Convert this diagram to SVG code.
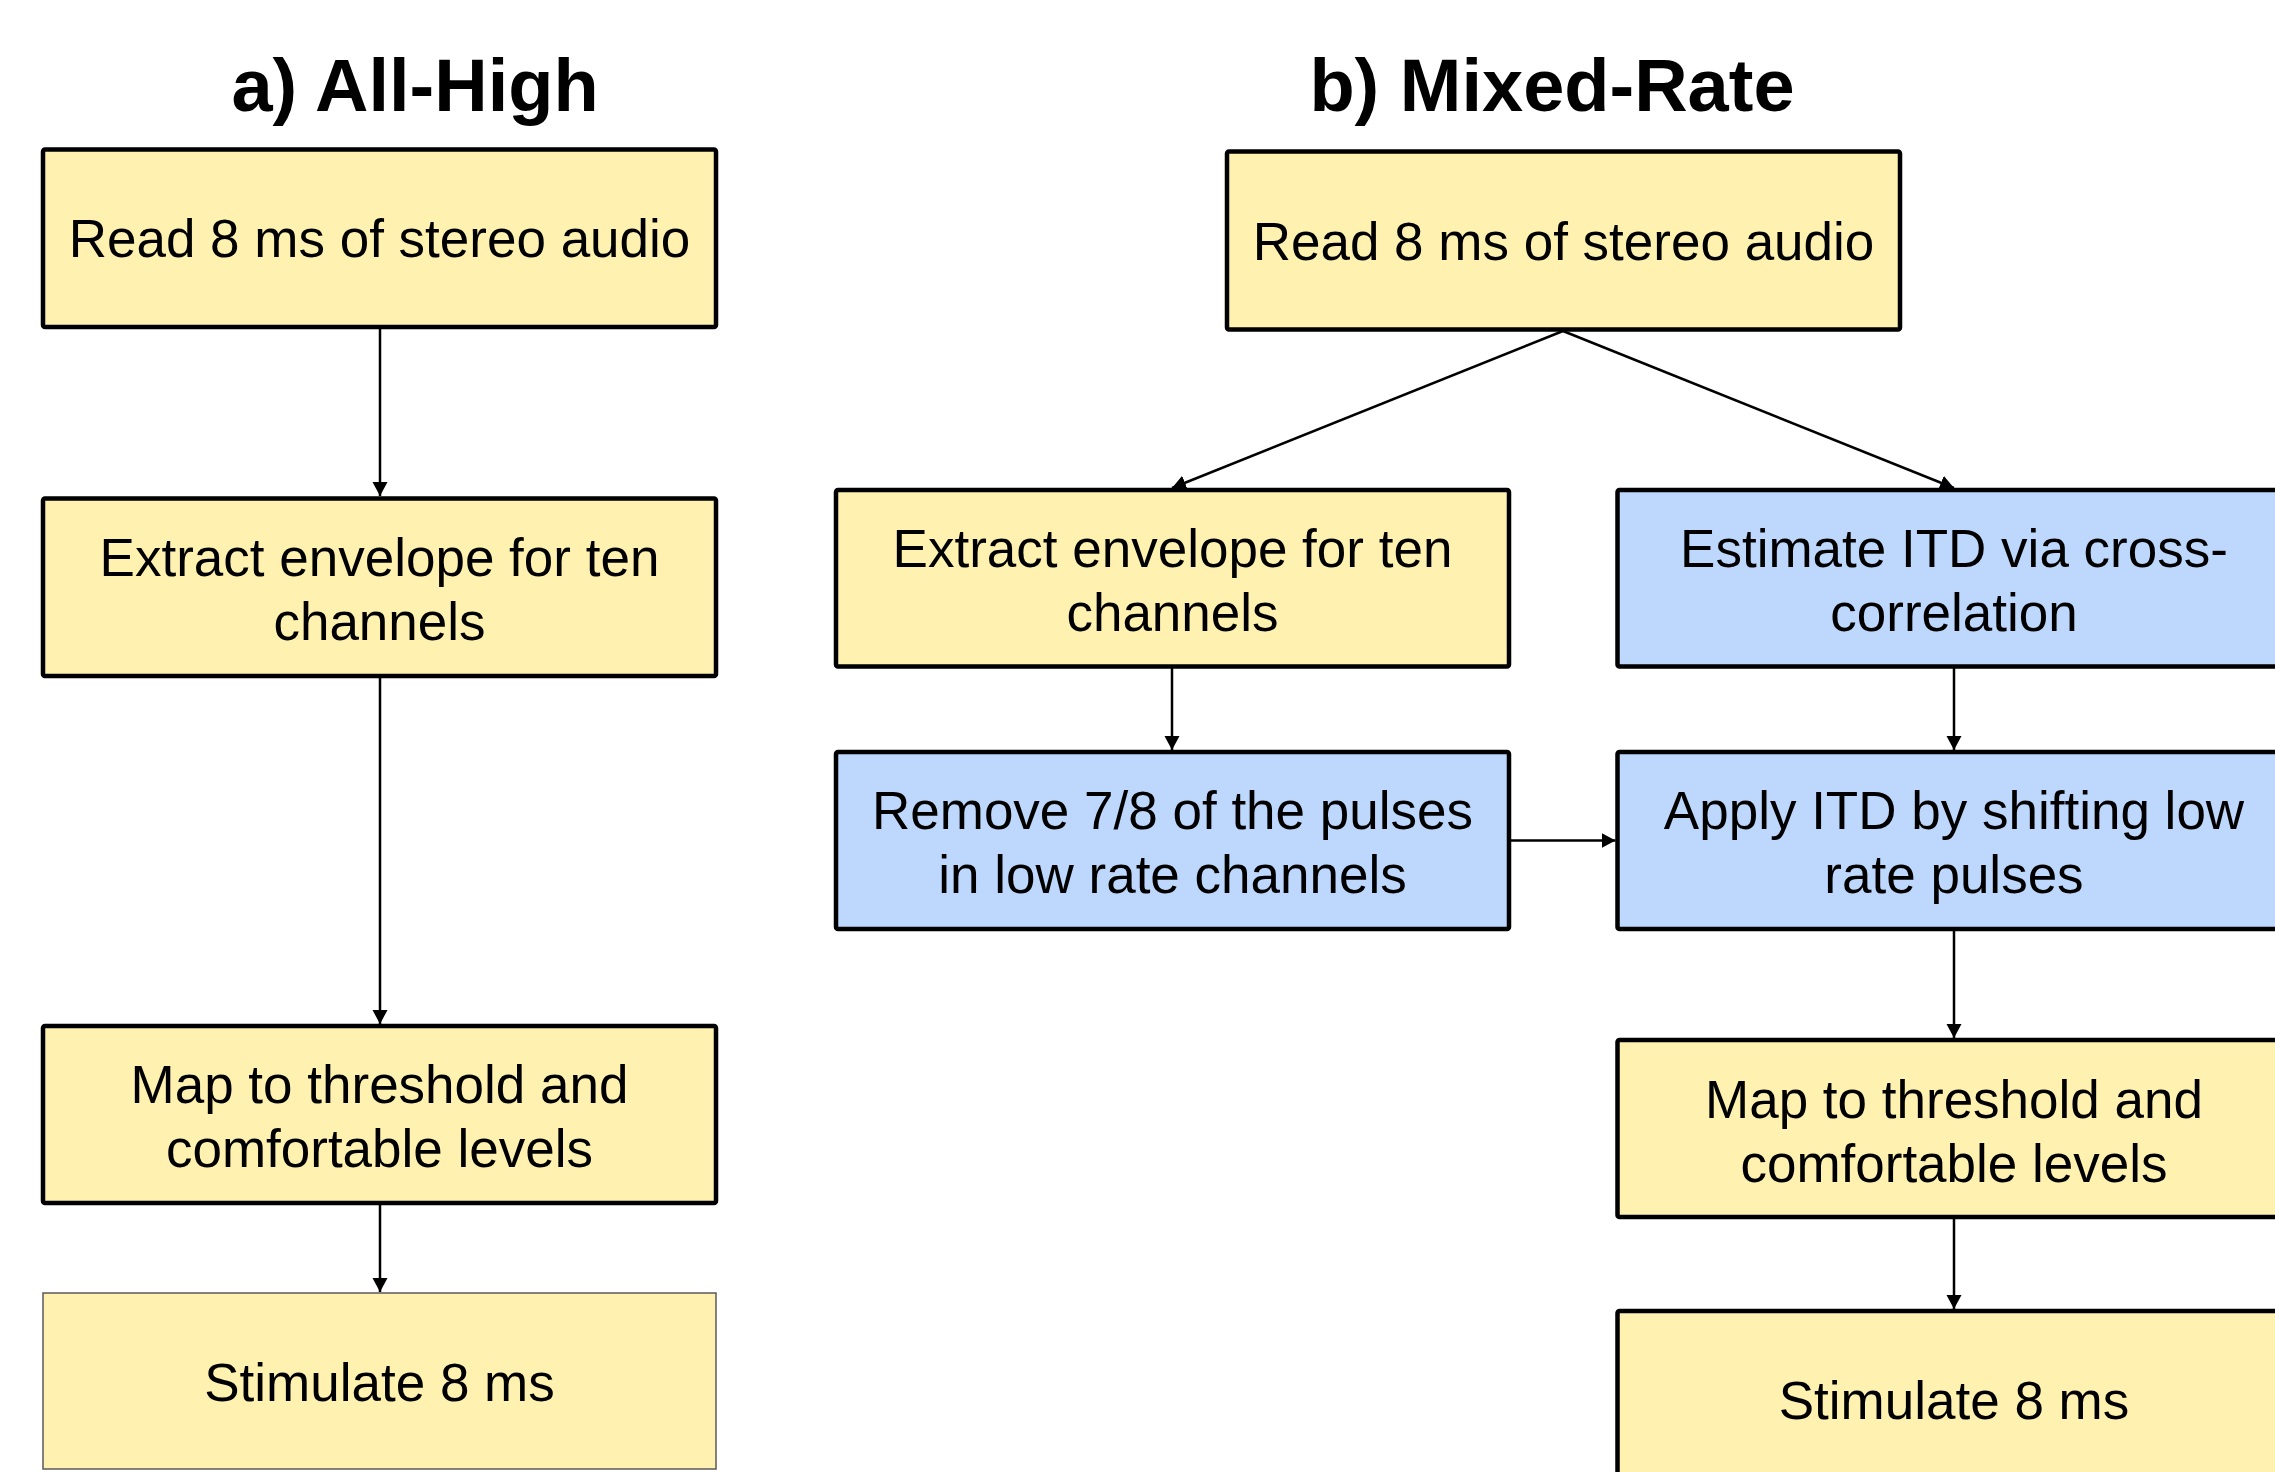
<svg xmlns="http://www.w3.org/2000/svg" width="2275" height="1472" viewBox="0 0 2275 1472">
  <style>
    .box { stroke: #000; stroke-width: 4.5; stroke-linejoin: round; }
    .thin { stroke: #5a5a5a; stroke-width: 1.5; }
    .yellow { fill: #fff2b0; }
    .blue { fill: #bdd7fd; }
    .label { font-family: "Liberation Sans", Arial, sans-serif; font-size: 53px; fill: #000; text-anchor: middle; }
    .title { font-family: "Liberation Sans", Arial, sans-serif; font-size: 74px; font-weight: bold; fill: #000; text-anchor: middle; }
    .edge { stroke: #000; stroke-width: 2.5; fill: none; }
  </style>
  <defs>
    <marker id="arrow" markerUnits="userSpaceOnUse" markerWidth="15" markerHeight="16" refX="14" refY="7.5" orient="auto">
      <path d="M0,0 L14,7.5 L0,15 z" fill="#000"/>
    </marker>
  </defs>
  <rect width="2275" height="1472" fill="#fff"/>

  <!-- Column titles -->
  <text class="title" x="415" y="111">a) All-High</text>
  <text class="title" x="1552" y="111">b) Mixed-Rate</text>

  <!-- Connectors -->
  <g id="connectors">
    <line class="edge" x1="380" y1="328" x2="380" y2="496" marker-end="url(#arrow)"/>
    <line class="edge" x1="380" y1="677" x2="380" y2="1024" marker-end="url(#arrow)"/>
    <line class="edge" x1="380" y1="1204" x2="380" y2="1292" marker-end="url(#arrow)"/>

    <line class="edge" x1="1563" y1="331" x2="1172" y2="488" marker-end="url(#arrow)"/>
    <line class="edge" x1="1563" y1="331" x2="1954" y2="488" marker-end="url(#arrow)"/>
    <line class="edge" x1="1172" y1="667" x2="1172" y2="750" marker-end="url(#arrow)"/>
    <line class="edge" x1="1510" y1="840.5" x2="1615.5" y2="840.5" marker-end="url(#arrow)"/>
    <line class="edge" x1="1954" y1="667" x2="1954" y2="750" marker-end="url(#arrow)"/>
    <line class="edge" x1="1954" y1="930" x2="1954" y2="1038" marker-end="url(#arrow)"/>
    <line class="edge" x1="1954" y1="1218" x2="1954" y2="1309" marker-end="url(#arrow)"/>
  </g>

  <!-- a) All-High pipeline -->
  <g id="a-read">
    <rect class="box yellow" x="43" y="149.5" width="673" height="177.5" rx="2"/>
    <text class="label" x="379.5" y="257">Read 8 ms of stereo audio</text>
  </g>
  <g id="a-extract">
    <rect class="box yellow" x="43" y="498.5" width="673" height="177.5" rx="2"/>
    <text class="label" x="379.5" y="576">Extract envelope for ten</text>
    <text class="label" x="379.5" y="640">channels</text>
  </g>
  <g id="a-map">
    <rect class="box yellow" x="43" y="1026" width="673" height="177" rx="2"/>
    <text class="label" x="379.5" y="1103">Map to threshold and</text>
    <text class="label" x="379.5" y="1167">comfortable levels</text>
  </g>
  <g id="a-stimulate">
    <rect class="thin yellow" x="43" y="1293" width="673" height="176"/>
    <text class="label" x="379.5" y="1401">Stimulate 8 ms</text>
  </g>

  <!-- b) Mixed-Rate pipeline -->
  <g id="b-read">
    <rect class="box yellow" x="1227" y="151.5" width="673" height="178" rx="2"/>
    <text class="label" x="1563.5" y="260">Read 8 ms of stereo audio</text>
  </g>
  <g id="b-extract">
    <rect class="box yellow" x="836" y="490" width="673" height="176.5" rx="2"/>
    <text class="label" x="1172.5" y="567">Extract envelope for ten</text>
    <text class="label" x="1172.5" y="631">channels</text>
  </g>
  <g id="b-remove">
    <rect class="box blue" x="836" y="752" width="673" height="177" rx="2"/>
    <text class="label" x="1172.5" y="829">Remove 7/8 of the pulses</text>
    <text class="label" x="1172.5" y="893">in low rate channels</text>
  </g>
  <g id="b-estimate">
    <rect class="box blue" x="1617.5" y="490" width="673" height="176.5" rx="2"/>
    <text class="label" x="1954" y="567">Estimate ITD via cross-</text>
    <text class="label" x="1954" y="631">correlation</text>
  </g>
  <g id="b-apply">
    <rect class="box blue" x="1617.5" y="752" width="673" height="177" rx="2"/>
    <text class="label" x="1954" y="829">Apply ITD by shifting low</text>
    <text class="label" x="1954" y="893">rate pulses</text>
  </g>
  <g id="b-map">
    <rect class="box yellow" x="1617.5" y="1040" width="673" height="177" rx="2"/>
    <text class="label" x="1954" y="1118">Map to threshold and</text>
    <text class="label" x="1954" y="1182">comfortable levels</text>
  </g>
  <g id="b-stimulate">
    <rect class="box yellow" x="1617.5" y="1311" width="673" height="177" rx="2"/>
    <text class="label" x="1954" y="1419">Stimulate 8 ms</text>
  </g>
</svg>
